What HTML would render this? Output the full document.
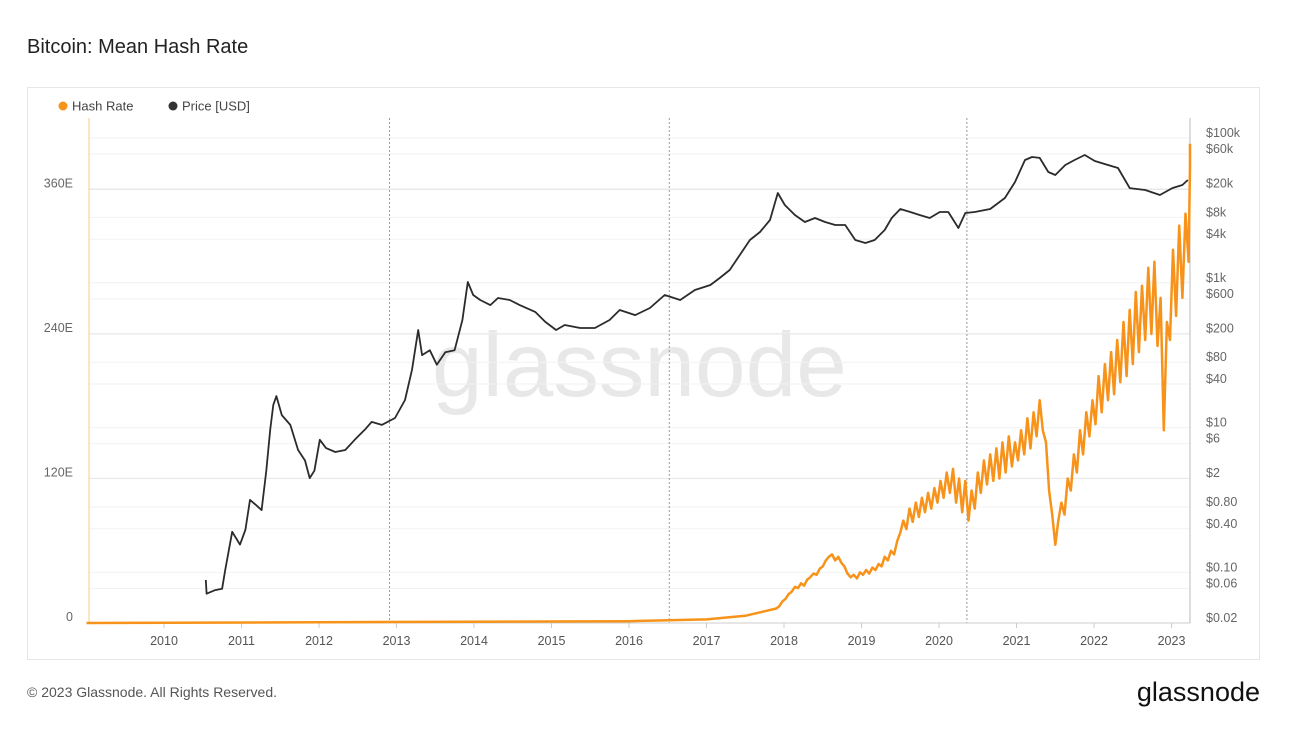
<!DOCTYPE html>
<html><head><meta charset="utf-8"><style>
body{margin:0;width:1292px;height:727px;background:#fff;font-family:"Liberation Sans",sans-serif;overflow:hidden}
</style></head><body>
<svg width="1292" height="727" xmlns="http://www.w3.org/2000/svg">
<text x="27" y="53" font-size="20" fill="#222">Bitcoin: Mean Hash Rate</text>
<rect x="27.5" y="87.5" width="1232" height="572" fill="none" stroke="#e6e6e6"/>
<g>
<g><circle cx="63" cy="106" r="4.5" fill="#f7931a"/><text x="72" y="110.5" font-size="13" fill="#444">Hash Rate</text></g>
<g><circle cx="173" cy="106" r="4.5" fill="#333"/><text x="182" y="110.5" font-size="13" fill="#444">Price [USD]</text></g>
</g>
<text x="432" y="396" font-size="91" fill="#e8e8e8">glassnode</text>
<g id="grid"></g>
<g id="axes"></g>
<g id="marks"></g>
<text x="27" y="697" font-size="14" fill="#555">© 2023 Glassnode. All Rights Reserved.</text>
<text x="1260" y="701" font-size="27" fill="#111" text-anchor="end">glassnode</text>
</svg>
<script>
const hashYears=[2009.0,2016.0,2017.0,2017.5,2017.9,2017.94,2017.98,2018.02,2018.06,2018.10,2018.14,2018.18,2018.22,2018.26,2018.30,2018.34,2018.38,2018.42,2018.46,2018.50,2018.54,2018.58,2018.62,2018.66,2018.70,2018.74,2018.78,2018.82,2018.86,2018.90,2018.94,2018.98,2019.02,2019.06,2019.10,2019.14,2019.18,2019.22,2019.26,2019.30,2019.34,2019.38,2019.42,2019.46,2019.50,2019.54,2019.58,2019.62,2019.66,2019.70,2019.74,2019.78,2019.82,2019.86,2019.90,2019.94,2019.98,2020.02,2020.06,2020.10,2020.14,2020.18,2020.22,2020.26,2020.30,2020.34,2020.38,2020.42,2020.46,2020.50,2020.54,2020.58,2020.62,2020.66,2020.70,2020.74,2020.78,2020.82,2020.86,2020.90,2020.94,2020.98,2021.02,2021.06,2021.10,2021.14,2021.18,2021.22,2021.26,2021.30,2021.34,2021.38,2021.42,2021.46,2021.50,2021.54,2021.58,2021.62,2021.66,2021.70,2021.74,2021.78,2021.82,2021.86,2021.90,2021.94,2021.98,2022.02,2022.06,2022.10,2022.14,2022.18,2022.22,2022.26,2022.30,2022.34,2022.38,2022.42,2022.46,2022.50,2022.54,2022.58,2022.62,2022.66,2022.70,2022.74,2022.78,2022.82,2022.86,2022.90,2022.94,2022.98,2023.02,2023.06,2023.10,2023.14,2023.18,2023.22,2023.26,2023.30];
const hashValues=[0,1.5,3,6,12,14,18,20,24,26,30,29,33,31,36,38,41,40,45,47,52,55,57,52,55,50,47,41,38,40,37,42,40,44,41,46,44,49,47,55,52,60,57,68,75,85,78,95,84,100,88,104,92,108,95,112,100,118,104,125,108,128,100,120,92,118,85,110,95,125,108,135,115,140,118,145,120,150,125,155,130,150,135,160,140,170,145,175,155,185,160,150,110,90,65,85,100,90,120,110,140,125,160,140,175,155,185,165,205,175,215,185,225,190,235,200,250,205,260,215,275,225,280,235,295,240,300,230,270,160,250,235,310,255,330,270,340,300,380,398];
const priceYears=[2010.54,2010.55,2010.66,2010.75,2010.79,2010.88,2010.98,2011.05,2011.11,2011.19,2011.26,2011.32,2011.37,2011.41,2011.45,2011.52,2011.63,2011.73,2011.82,2011.88,2011.94,2012.01,2012.09,2012.21,2012.34,2012.46,2012.59,2012.68,2012.81,2012.98,2013.11,2013.20,2013.28,2013.33,2013.43,2013.52,2013.63,2013.75,2013.85,2013.92,2013.99,2014.08,2014.21,2014.31,2014.46,2014.59,2014.79,2014.92,2015.06,2015.17,2015.37,2015.56,2015.75,2015.88,2016.08,2016.27,2016.46,2016.66,2016.85,2017.05,2017.17,2017.30,2017.43,2017.56,2017.69,2017.82,2017.92,2018.01,2018.14,2018.27,2018.40,2018.53,2018.66,2018.79,2018.92,2019.05,2019.17,2019.30,2019.39,2019.50,2019.63,2019.75,2019.88,2020.01,2020.12,2020.25,2020.34,2020.46,2020.66,2020.85,2020.98,2021.11,2021.20,2021.30,2021.41,2021.50,2021.63,2021.75,2021.88,2022.01,2022.18,2022.31,2022.40,2022.46,2022.66,2022.85,2023.01,2023.14,2023.21];
const priceValues=[0.065,0.042,0.047,0.049,0.089,0.30,0.20,0.32,0.83,0.70,0.60,2.1,7.7,17,22.5,12.3,9.0,4.05,2.9,1.66,2.1,5.6,4.3,3.8,4.05,5.6,7.7,9.9,9.0,11.2,19.9,52,184,83,97,61,91,97,253,847,561,478,407,509,478,407,327,238,184,216,196,196,253,348,296,371,561,478,658,771,962,1240,2000,3220,4160,6080,14350,9820,7130,5710,6490,5710,5190,5190,3220,2930,3220,4430,6490,8630,7850,7130,6490,7850,7850,4720,7600,7850,8630,12250,20400,41000,45200,43800,28000,25500,35000,41000,48100,39700,35000,31800,21700,16800,15800,13500,16800,18500,21700];
const hashTicks=[0,120,240,360];
const hashTickLabels=["0","120E","240E","360E"];
const priceTicks=[0.02,0.06,0.1,0.4,0.8,2,6,10,40,80,200,600,1000,4000,8000,20000,60000,100000];
const priceTickLabels=["$0.02","$0.06","$0.10","$0.40","$0.80","$2","$6","$10","$40","$80","$200","$600","$1k","$4k","$8k","$20k","$60k","$100k"];
const yearTicks=[2010,2011,2012,2013,2014,2015,2016,2017,2018,2019,2020,2021,2022,2023];
const halvings=[2012.91,2016.52,2020.36];

const X0=89,X1=1190,Y0=623,YT=118;
const xS=y=>164+(y-2010)*77.5;
const hS=v=>623-v/120*144.5;
const pS=v=>617-(Math.log10(v)+1.699)*72.4;
const NS="http://www.w3.org/2000/svg";
function mk(tag,attrs,parent,txt){const e=document.createElementNS(NS,tag);for(const k in attrs)e.setAttribute(k,attrs[k]);if(txt!==undefined)e.textContent=txt;parent.appendChild(e);return e;}
const grid=document.getElementById('grid'),axes=document.getElementById('axes'),marks=document.getElementById('marks');
priceTicks.forEach((v,i)=>{const y=pS(v);
 const l=mk('line',{x1:X0,x2:X1,y1:y+6,y2:y+6,stroke:'#f2f2f2'},grid);
 
 
 const t=mk('text',{x:1206,y:y+5,'font-size':12.5,fill:'#666'},axes,priceTickLabels[i]);
 
 });
hashTicks.forEach((v,i)=>{const y=hS(v);
 const l=mk('line',{x1:X0,x2:X1,y1:y,y2:y,stroke:'#e8e8e8'},grid);
 
 
 const t=mk('text',{x:73,y:y-2,'font-size':12.5,fill:'#666','text-anchor':'end'},axes,hashTickLabels[i]);
 
 });
yearTicks.forEach(v=>{const x=xS(v);
 const l=mk('line',{x1:x,x2:x,y1:Y0,y2:Y0+5,stroke:'#ccc'},axes);
 
 
 const t=mk('text',{x:x,y:645,'font-size':12.5,fill:'#555','text-anchor':'middle'},axes,String(v));
 
 });
halvings.forEach(v=>{const x=xS(v);
 const l=mk('line',{x1:x,x2:x,y1:YT,y2:Y0,stroke:'#999','stroke-dasharray':'2,2'},grid);
 
 });
const ax=mk('line',{x1:X0,x2:X1,y1:Y0,y2:Y0,stroke:'#ccc'},axes);


const la=mk('line',{x1:X0,x2:X0,y1:YT,y2:Y0,stroke:'#fbc98a'},axes);


const ra=mk('line',{x1:X1,x2:X1,y1:YT,y2:Y0,stroke:'#bbb'},axes);


let d='';hashYears.forEach((y,i)=>{d+=(i?'L':'M')+Math.min(xS(y),X1).toFixed(1)+','+hS(hashValues[i]).toFixed(1);});
const hp=mk('path',{d:d,fill:'none',stroke:'#f7931a','stroke-width':2.5,'stroke-linejoin':'round'},marks);


let d2='';priceYears.forEach((y,i)=>{d2+=(i?'L':'M')+xS(y).toFixed(1)+','+pS(priceValues[i]).toFixed(1);});
const pp=mk('path',{d:d2,fill:'none',stroke:'#2b2b2b','stroke-width':1.8,'stroke-linejoin':'round'},marks);


</script>
</body></html>
